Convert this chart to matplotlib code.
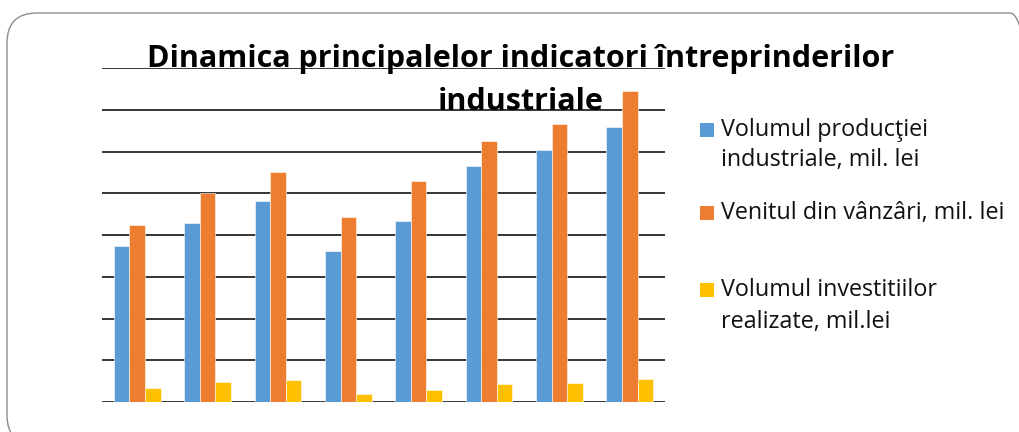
import matplotlib
matplotlib.use('Agg')
import matplotlib.pyplot as plt
from matplotlib.patches import FancyBboxPatch, Rectangle
import numpy as np

# values, in gridline units (axis has no labels)
years = ['1', '2', '3', '4', '5', '6', '7', '8']
productie = [3.74, 4.28, 4.82, 3.62, 4.34, 5.66, 6.04, 6.58]
venit = [4.23, 5.01, 5.52, 4.44, 5.30, 6.25, 6.66, 7.44]
investitii = [0.33, 0.47, 0.53, 0.19, 0.29, 0.43, 0.46, 0.55]

labels = ['Volumul producţiei\nindustriale, mil. lei',
          'Venitul din vânzâri, mil. lei',
          'Volumul investitiilor\nrealizate, mil.lei']
colorsList = ['#5B9BD5', '#ED7D31', '#FFC000']
title = 'Dinamica principalelor indicatori întreprinderilor\nindustriale'

plt.rcParams['font.family'] = ['Open Sans', 'DejaVu Sans']

W, H = 1019, 432
fig = plt.figure(figsize=(W / 100, H / 100), dpi=100)

# background axes in pixel units, for the rounded chart border
bg = fig.add_axes([0, 0, 1, 1], zorder=-1)
bg.set_xlim(0, W)
bg.set_ylim(0, H)
bg.axis('off')
bg.add_patch(FancyBboxPatch((7, H - 445), 1040 - 7, 445 - 13,
                            boxstyle='round,pad=0,rounding_size=30',
                            facecolor='none', edgecolor='#8c8c8c',
                            linewidth=1.0, clip_on=False))

ax = fig.add_axes([102 / W, (H - 402) / H, 563 / W, (402 - 68) / H])
ax.patch.set_alpha(0)
x = np.arange(len(years))
w = 0.222
series = [productie, venit, investitii]
for i, s in enumerate(series):
    ax.bar(x + (i - 1) * w, s, w, color=colorsList[i], edgecolor='white',
           linewidth=0.4, zorder=3)

ax.set_xlim(-0.5, len(years) - 0.5)
ax.set_ylim(0, 8)
ax.set_yticks(range(0, 9))
ax.yaxis.grid(True, color='black', linewidth=1.1, zorder=0)
ax.set_axisbelow(True)
ax.tick_params(left=False, bottom=False, labelleft=False, labelbottom=False)
for sp in ax.spines.values():
    sp.set_visible(False)

fig.text(521 / W, 1 - 44 / H, title, ha='center', va='top',
         fontsize=22, fontweight='bold', linespacing=1.56)

# legend drawn by hand to follow the reference spacing
legend_y = [[130, 160], [213], [290, 322]]
for i, lab in enumerate(labels):
    lines = lab.split('\n')
    y0 = legend_y[i][0]
    fig.patches.append(Rectangle((700 / W, 1 - (y0 + 7) / H), 14 / W, 14 / H,
                                 transform=fig.transFigure,
                                 facecolor=colorsList[i], edgecolor='none'))
    for ln, yy in zip(lines, legend_y[i]):
        fig.text(721 / W, 1 - yy / H, ln, ha='left', va='center',
                 fontsize=16.8, color='#111111')

fig.savefig('out.png', dpi=100)
